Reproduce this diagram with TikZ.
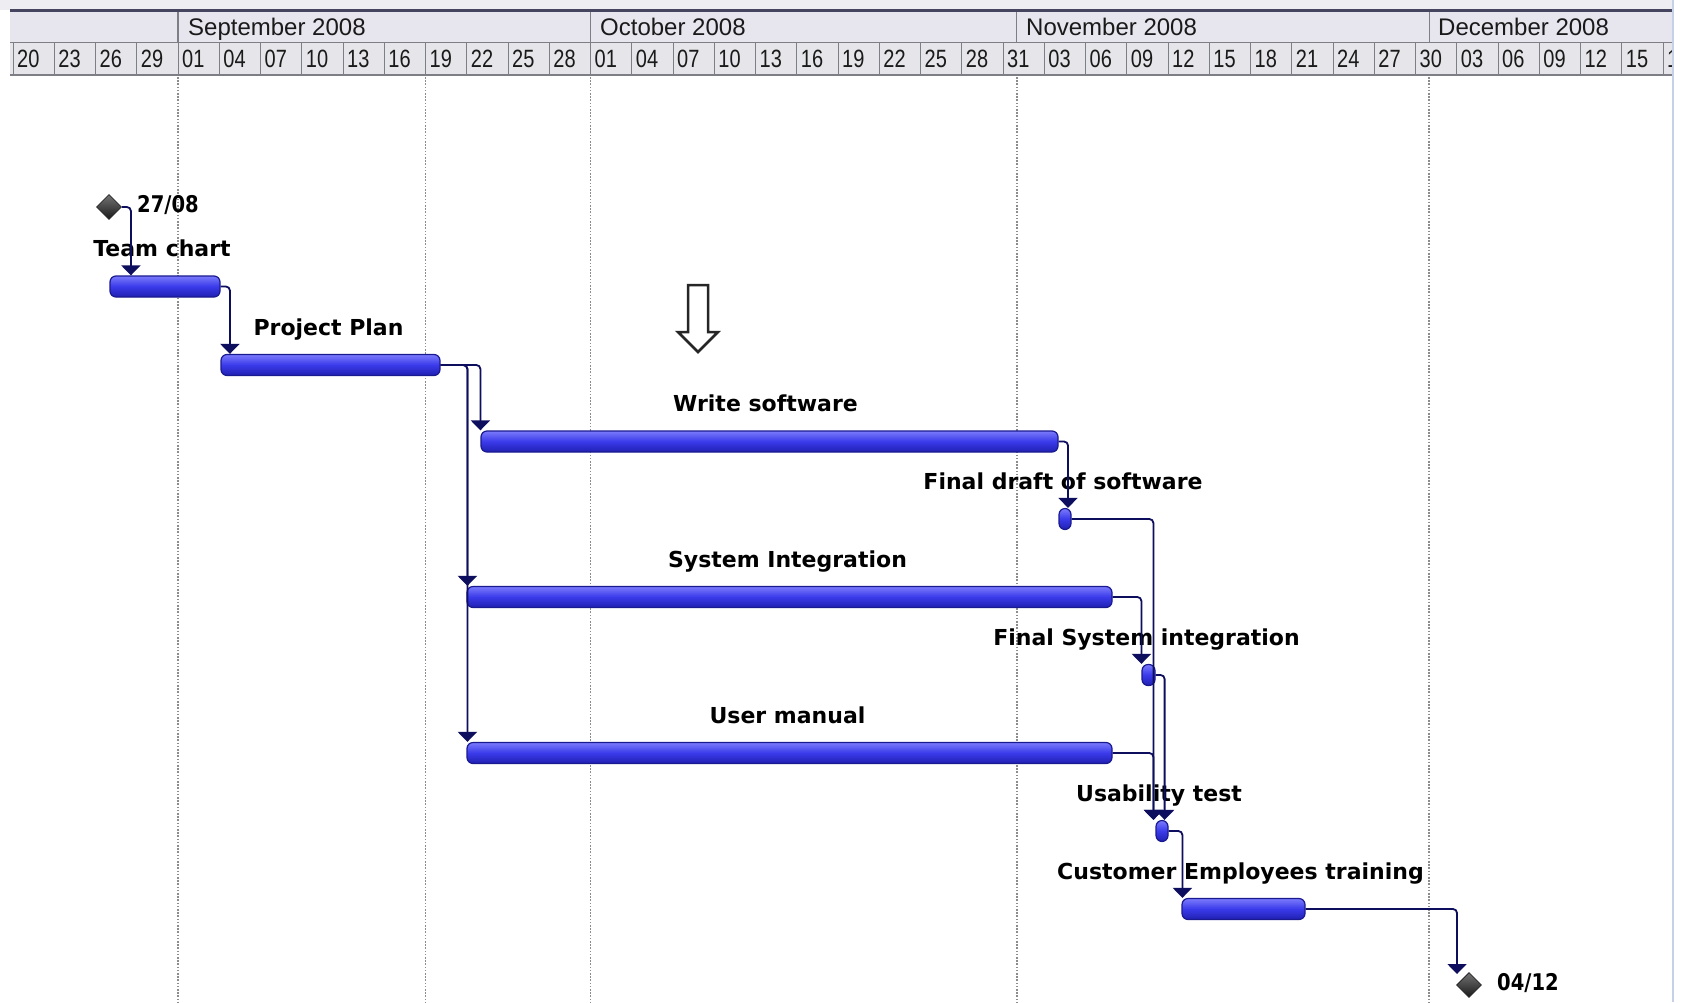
\documentclass[tikz,border=0pt]{standalone}
\usepackage{fontspec}
\setmainfont{Liberation Sans}
\newfontfamily\lblfont{DejaVu Sans}
\usetikzlibrary{arrows.meta,shapes.geometric,calc}

\definecolor{barline}{HTML}{1A1A90}
\definecolor{bartop}{HTML}{7A7AFC}
\definecolor{barmid}{HTML}{3A3AEA}
\definecolor{barbot}{HTML}{2020B0}
\definecolor{conncol}{HTML}{0E0E5E}
\definecolor{hdrstrip}{HTML}{EEEEF2}
\definecolor{hdrbg}{HTML}{E7E5EE}
\definecolor{hdrday}{HTML}{E6E6EA}
\definecolor{hdrline}{HTML}{7E7E86}
\definecolor{hdrtop}{HTML}{45455F}
\definecolor{gridcol}{HTML}{8C8C8C}
\definecolor{edgeblue}{HTML}{C6D0E8}
\definecolor{hdrtext}{HTML}{1A1A1A}

\tikzset{
  taskbar/.style={draw=barline, line width=1.2pt, rounded corners=6pt,
    minimum height=21pt, inner sep=0pt,
    top color=bartop, bottom color=barbot, middle color=barmid},
  tasklbl/.style={font=\lblfont\bfseries\fontsize{22}{26}\selectfont,
    text=black, inner sep=0pt, anchor=base},
  mslbl/.style={font=\lblfont\bfseries\fontsize{23}{26}\selectfont,
    text=black, inner sep=0pt, anchor=base west, xscale=0.85},
  conn/.style={draw=conncol, line width=1.8pt, rounded corners=4pt,
    -{Triangle[width=19pt,length=10pt]}},
  milestone/.style={diamond, aspect=1, draw=black!85, line width=0.8pt,
    top color=black!55, bottom color=black!90,
    minimum width=25pt, minimum height=25pt, inner sep=0pt},
  monthlbl/.style={font=\fontsize{24}{28}\selectfont, text=hdrtext,
    inner sep=0pt, anchor=base west},
  daylbl/.style={font=\fontsize{25}{28}\selectfont, text=hdrtext,
    inner sep=0pt, anchor=base west, xscale=0.8},
  gridline/.style={draw=gridcol, line width=1.6pt, dash pattern=on 1.6pt off 1.6pt},
}

\begin{document}
\begin{tikzpicture}[x=1pt,y=-1pt]
\useasboundingbox (0,0) rectangle (1681,1002);
\fill[white] (0,0) rectangle (1681,1002);

% ---------- header ----------
\fill[hdrstrip] (0,0) rectangle (1673,10);
\fill[hdrbg] (10,11) rectangle (1673,42);
\fill[hdrday] (10,42) rectangle (1673,75);
\draw[hdrtop, line width=2.5pt] (10,10.5) -- (1673,10.5);
\draw[hdrline, line width=1.2pt] (10,42.5) -- (1673,42.5);
\draw[hdrline, line width=1.2pt] (10,75) -- (1673,75);
\foreach \x in {178,590.5,1016.75,1429.25}
  \draw[hdrline, line width=1.2pt] (\x,12) -- (\x,42);

\node[monthlbl] (msep) at (188,35) {September 2008};
\node[monthlbl] (moct) at (600,35) {October 2008};
\node[monthlbl] (mnov) at (1026,35) {November 2008};
\node[monthlbl] (mdec) at (1438,35) {December 2008};

\begin{scope}
\clip (0,40) rectangle (1672,78);
\foreach \d [count=\i from 0] in {20,23,26,29,01,04,07,10,13,16,19,22,25,28,01,04,07,10,13,16,19,22,25,28,31,03,06,09,12,15,18,21,24,27,30,03,06,09,12,15,18}
{
  \pgfmathsetmacro\cx{13+41.25*\i}
  \draw[hdrline, line width=1pt] (\cx,43) -- (\cx,75);
  \node[daylbl] (day\i) at (\cx+4,67) {\d};
}
\end{scope}

% right edge
\draw[edgeblue, line width=2.5pt] (1673,0) -- (1673,1002);

% ---------- grid lines ----------
\foreach \x in {178,425.5,590.5,1016.75,1429.25}
  \draw[gridline] (\x,77) -- (\x,1002);

% ---------- hollow arrow ----------
\draw[line width=2.5pt, draw=black!85, fill=white, line join=miter]
  (688,285) -- (708,285) -- (708,332) -- (718,332) -- (698,352)
  -- (678,332) -- (688,332) -- cycle;

% ---------- milestones ----------
\node[milestone] (m1) at (109,207) {};
\node[mslbl] (m1l) at (137,212) {27/08};
\node[milestone] (m2) at (1469,985) {};
\node[mslbl] (m2l) at (1497,990) {04/12};
\coordinate (m2in) at (1457,974);

% ---------- bars ----------
\node[taskbar, minimum width=110pt] (tc)  at (165,286.5) {};
\node[taskbar, minimum width=219pt] (pp)  at (330.5,365) {};
\node[taskbar, minimum width=577pt] (ws)  at (769.5,441.5) {};
\node[taskbar, minimum width=645pt] (si)  at (789.5,597) {};
\node[taskbar, minimum width=645pt] (um)  at (789.5,753) {};
\node[taskbar, minimum width=12pt]  (fd)  at (1065,519) {};
\node[taskbar, minimum width=13pt]  (fsi) at (1148.5,675) {};
\node[taskbar, minimum width=12pt]  (ut)  at (1162,831) {};
\node[taskbar, minimum width=123pt] (cet) at (1243.5,909) {};

% ---------- labels ----------
\node[tasklbl] (tcl)  at ($(tc)+(-3,-30)$)  {Team chart};
\node[tasklbl] (ppl)  at ($(pp)+(-2,-30)$)  {Project Plan};
\node[tasklbl] (wsl)  at ($(ws)+(-4,-30)$)  {Write software};
\node[tasklbl] (sil)  at ($(si)+(-2,-30)$)  {System Integration};
\node[tasklbl] (uml)  at ($(um)+(-2,-30)$)  {User manual};
\node[tasklbl] (fdl)  at ($(fd)+(-2,-30)$)  {Final draft of software};
\node[tasklbl] (fsil) at ($(fsi)+(-2,-30)$) {Final System integration};
\node[tasklbl] (utl)  at ($(ut)+(-3,-30)$)  {Usability test};
\node[tasklbl] (cetl) at ($(cet)+(-3,-30)$) {Customer Employees training};

% ---------- connectors ----------
\draw[conn] (m1.east) -| ($(tc.north west)+(21.5,0)$);
\draw[conn] (tc.east) -| ($(pp.north west)+(9.5,0)$);
\draw[conn] (pp.east) -| ($(ws.north west)+(0,0)$);
\draw[conn] (pp.east) -| ($(si.north west)+(1,0)$);
\draw[conn] (pp.east) -| ($(um.north west)+(1,0)$);
\draw[conn] (ws.east) -| ($(fd.north)+(3,0)$);
\draw[conn] (si.east) -| ($(fsi.north west)+(0,0)$);
\draw[conn] (fd.east) -| ($(ut.north west)+(-2,0)$);
\draw[conn] (um.east) -| ($(ut.north west)+(-2,0)$);
\draw[conn] (fsi.east) -| ($(ut.north east)+(-4,0)$);
\draw[conn] (ut.east) -| ($(cet.north west)+(1,0)$);
\draw[conn] (cet.east) -| (m2in);
\end{tikzpicture}
\end{document}
